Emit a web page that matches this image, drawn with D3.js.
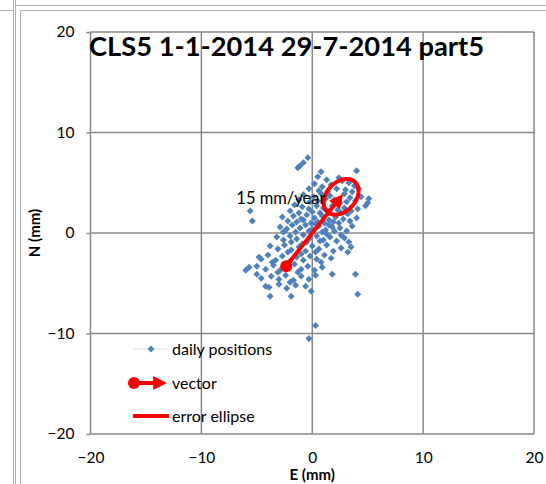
<!DOCTYPE html>
<html>
<head>
<meta charset="utf-8">
<script src="https://cdn.jsdelivr.net/npm/d3@7"></script>
<style>
  body { margin: 0; background: #fff; }
  svg { display: block; font-family: Lato, "Open Sans", sans-serif; }
</style>
</head>
<body>
<div id="chart"></div>
<script>
var titleText = "CLS5 1-1-2014 29-7-2014 part5";
var xTicks = [-20, -10, 0, 10, 20];
var yTicks = [-20, -10, 0, 10, 20];

// daily positions [E, N] in mm
var dailyPositions = [
    [-0.4, 7.5], [-0.8, 7.0], [-1.1, 6.7], [-1.3, 6.5], [0.8, 6.1], [4.0, 6.2],
    [0.5, 5.6], [1.3, 5.3], [2.4, 5.5], [2.7, 5.2], [3.3, 5.0], [3.8, 4.7], [0.2, 4.9], [0.9, 4.6],
    [1.7, 4.8], [2.2, 4.4], [3.0, 4.3], [3.6, 4.1], [-0.3, 4.4], [0.6, 4.2], [1.4, 4.1], [4.2, 4.4],
    [-0.8, 3.8], [0.1, 3.6], [0.8, 3.9], [1.6, 3.7], [2.0, 3.3], [2.9, 3.9], [3.4, 3.5], [3.9, 3.2],
    [4.4, 3.6], [5.1, 3.4], [5.0, 3.0], [4.8, 2.7], [-0.2, 3.1], [0.5, 3.2], [1.2, 3.4], [2.5, 3.0],
    [3.1, 3.1], [-1.2, 3.3],
    [-1.6, 2.8], [-0.9, 2.6], [-0.3, 2.4], [0.4, 2.7], [1.0, 2.5], [1.8, 2.7], [2.3, 2.3], [2.9, 2.5],
    [3.5, 2.2], [4.1, 2.4], [-2.0, 2.2], [-1.2, 2.0], [0.0, 2.1], [0.7, 2.0], [1.4, 2.2], [2.6, 2.0],
    [3.2, 1.9], [-5.6, 2.2],
    [-2.7, 1.6], [-2.2, 1.2], [-1.7, 1.7], [-1.0, 1.4], [-0.5, 1.8], [0.2, 1.5], [0.9, 1.7], [1.5, 1.3],
    [2.1, 1.6], [2.8, 1.4], [3.4, 1.2], [4.0, 1.5], [-1.4, 1.1], [-0.1, 1.0], [0.5, 1.1], [1.1, 1.0],
    [1.9, 1.1], [-5.4, 1.2], [-0.8, 1.3], [2.4, 1.0],
    [-2.9, 0.6], [-2.3, 0.4], [-1.8, 0.8], [-1.1, 0.5], [-0.6, 0.8], [0.0, 0.4], [0.6, 0.7], [1.2, 0.3],
    [1.8, 0.6], [2.5, 0.5], [3.1, 0.2], [3.6, 0.7], [-1.5, 0.1], [-0.3, 0.2], [0.9, 0.1], [2.0, 0.2],
    [-2.6, 0.1], [0.3, 0.9], [1.5, 0.8],
    [-3.2, -0.4], [-2.6, -0.7], [-2.0, -0.3], [-1.4, -0.6], [-0.8, -0.2], [-0.2, -0.5], [0.4, -0.3],
    [1.0, -0.7], [1.6, -0.4], [2.2, -0.8], [2.9, -0.5], [3.3, -0.9], [-1.9, -0.9], [-0.5, -0.9],
    [0.7, -0.8], [1.3, -0.1], [2.6, -0.2],
    [-3.8, -1.3], [-3.1, -1.6], [-2.5, -1.2], [-1.9, -1.7], [-1.2, -1.4], [-0.6, -1.8], [0.0, -1.3],
    [0.6, -1.6], [1.3, -1.2], [1.9, -1.8], [2.6, -1.5], [3.5, -1.4], [3.2, -1.9], [-2.2, -1.9],
    [-0.9, -1.1], [0.3, -1.9],
    [-4.8, -2.4], [-4.6, -2.6], [-4.0, -2.2], [-3.3, -2.7], [-2.7, -2.3], [-2.0, -2.8], [-1.4, -2.4],
    [-0.8, -2.7], [-0.2, -2.3], [0.4, -2.6], [1.1, -2.2], [1.7, -2.5], [-3.6, -2.9], [-1.0, -2.1],
    [0.8, -2.9],
    [-6.0, -3.7], [-5.7, -3.4], [-5.0, -3.3], [-4.2, -3.6], [-3.5, -3.2], [-2.9, -3.7], [-2.3, -3.4],
    [-1.6, -3.1], [-1.0, -3.6], [-0.4, -3.3], [0.2, -3.7], [0.9, -3.4], [-3.1, -3.9], [-1.3, -3.9],
    [-5.0, -4.1], [-4.6, -4.5], [-3.7, -4.3], [-3.0, -4.6], [-2.4, -4.2], [-1.7, -4.7], [-1.0, -4.3],
    [-0.3, -4.6], [0.3, -4.2], [1.8, -4.1], [3.9, -4.1], [-2.0, -4.9],
    [-4.2, -5.3], [-3.9, -5.4], [-3.0, -5.1], [-2.3, -5.5], [-1.5, -5.2], [-0.6, -5.3], [-0.1, -5.8],
    [-3.8, -6.3], [-1.9, -6.3], [4.1, -6.1], [0.3, -9.2], [-0.3, -10.5]
];

// velocity vector (mm), label and error ellipse
var vectorStart = [-2.35, -3.3];
var vectorEnd = [2.55, 3.55];
var vectorLabel = "15 mm/year";
var ellipseCenter = [2.6, 3.6];
var ellipseAxes = [1.95, 1.35];  // semi-major, semi-minor (mm)
var ellipseAngle = 55;           // degrees from E axis

var legendLabels = ["daily positions", "vector", "error ellipse"];

var width = 546, height = 484;
var blue = "#4f81bd", red = "#ff0000", gridColor = "#888888";

var svg = d3.select("#chart").append("svg")
    .attr("width", width)
    .attr("height", height);

// surrounding sheet / chart frame lines
var frame = svg.append("g").attr("stroke", "#b0b0b0").attr("fill", "none");
frame.append("line").attr("x1", 13.5).attr("x2", 13.5).attr("y1", 0).attr("y2", height);
frame.append("line").attr("x1", 15.5).attr("x2", 15.5).attr("y1", 0).attr("y2", height);
frame.append("line").attr("x1", 0).attr("x2", 13.5).attr("y1", 10.5).attr("y2", 10.5);
frame.append("line").attr("x1", 15.5).attr("x2", width).attr("y1", 5.5).attr("y2", 5.5);
frame.append("line").attr("x1", 20.5).attr("x2", width).attr("y1", 10.5).attr("y2", 10.5);
frame.append("line").attr("x1", 20.5).attr("x2", 20.5).attr("y1", 10.5).attr("y2", height);

var x = d3.scaleLinear().domain([-20, 20]).range([90.5, 534]);
var y = d3.scaleLinear().domain([-20, 20]).range([434, 32]);

// gridlines
var grid = svg.append("g");
grid.selectAll(".vg").data(xTicks).enter().append("line")
    .attr("x1", function (d) { return x(d); })
    .attr("x2", function (d) { return x(d); })
    .attr("y1", y(20)).attr("y2", y(-20))
    .style("stroke", gridColor).style("stroke-width", 1.5);
grid.selectAll(".hg").data(yTicks).enter().append("line")
    .attr("x1", x(-20)).attr("x2", x(20))
    .attr("y1", function (d) { return y(d); })
    .attr("y2", function (d) { return y(d); })
    .style("stroke", gridColor).style("stroke-width", 1.5);

// axes
var xAxis = svg.append("g")
    .attr("transform", "translate(0," + y(-20) + ")")
    .call(d3.axisBottom(x).tickValues(xTicks).tickSize(0).tickPadding(18));
var yAxis = svg.append("g")
    .attr("transform", "translate(" + x(-20) + ",0)")
    .call(d3.axisLeft(y).tickValues(yTicks).tickSize(4).tickPadding(12));
[xAxis, yAxis].forEach(function (a) {
    a.select(".domain").remove();
    a.selectAll("line").style("stroke", gridColor).style("stroke-width", 1.5);
    a.selectAll("text").style("font-size", "15.5px").style("fill", "#000")
        .style("font-family", "Lato, sans-serif");
});

svg.append("text")
    .attr("x", x(0)).attr("y", 480)
    .attr("text-anchor", "middle")
    .style("font-weight", "bold").style("font-size", "15px")
    .text("E (mm)");
svg.append("text")
    .attr("transform", "translate(40," + y(0) + ") rotate(-90)")
    .attr("text-anchor", "middle")
    .style("font-weight", "bold").style("font-size", "15px")
    .text("N (mm)");

// title
svg.append("text")
    .attr("x", 89).attr("y", 56)
    .style("font-weight", "bold").style("font-size", "27.3px")
    .text(titleText);

// daily positions
var diamond = d3.symbol().type(d3.symbolSquare).size(24);
svg.append("g").selectAll("path")
    .data(dailyPositions)
    .enter().append("path")
    .attr("d", diamond)
    .attr("transform", function (d) { return "translate(" + x(d[0]) + "," + y(d[1]) + ") rotate(45)"; })
    .style("fill", blue);

// error ellipse
var ang = ellipseAngle * Math.PI / 180;
var ellipsePts = d3.range(0, 361, 5).map(function (t) {
    var r = t * Math.PI / 180;
    var u = ellipseAxes[0] * Math.cos(r), v = ellipseAxes[1] * Math.sin(r);
    return [ellipseCenter[0] + u * Math.cos(ang) - v * Math.sin(ang),
            ellipseCenter[1] + u * Math.sin(ang) + v * Math.cos(ang)];
});
svg.append("path")
    .datum(ellipsePts)
    .attr("d", d3.line().x(function (d) { return x(d[0]); }).y(function (d) { return y(d[1]); }).curve(d3.curveLinearClosed))
    .style("fill", "none").style("stroke", red).style("stroke-width", 4);

// vector
svg.append("defs").append("marker")
    .attr("id", "arrow")
    .attr("viewBox", "0 0 10 10")
    .attr("refX", 7).attr("refY", 5)
    .attr("markerUnits", "userSpaceOnUse")
    .attr("markerWidth", 14).attr("markerHeight", 14)
    .attr("orient", "auto")
    .append("path").attr("d", "M0,0 L10,5 L0,10 Z").style("fill", red);

svg.append("line")
    .attr("x1", x(vectorStart[0])).attr("y1", y(vectorStart[1]))
    .attr("x2", x(vectorEnd[0])).attr("y2", y(vectorEnd[1]))
    .style("stroke", red).style("stroke-width", 4)
    .attr("marker-end", "url(#arrow)");
svg.append("circle")
    .attr("cx", x(vectorStart[0])).attr("cy", y(vectorStart[1]))
    .attr("r", 6).style("fill", red);

svg.append("text")
    .attr("x", x(vectorEnd[0]) - 15).attr("y", y(vectorEnd[1]) + 7)
    .attr("text-anchor", "end")
    .style("font-size", "16.5px")
    .text(vectorLabel);

// legend
var lg = svg.append("g").attr("transform", "translate(133,0)");
var rowY = [349, 383, 416];
lg.append("line").attr("x1", 0).attr("x2", 35).attr("y1", rowY[0]).attr("y2", rowY[0])
    .style("stroke", blue).style("stroke-opacity", 0.25).style("stroke-width", 1);
lg.append("path").attr("d", diamond)
    .attr("transform", "translate(18," + rowY[0] + ") rotate(45)")
    .style("fill", blue);
lg.append("line").attr("x1", 1).attr("x2", 30).attr("y1", rowY[1]).attr("y2", rowY[1])
    .style("stroke", red).style("stroke-width", 4)
    .attr("marker-end", "url(#arrow)");
lg.append("circle").attr("cx", 1).attr("cy", rowY[1]).attr("r", 6).style("fill", red);
lg.append("line").attr("x1", 0).attr("x2", 36).attr("y1", rowY[2]).attr("y2", rowY[2])
    .style("stroke", red).style("stroke-width", 4);
lg.selectAll(".lt").data(legendLabels).enter().append("text")
    .attr("x", 39)
    .attr("y", function (d, i) { return rowY[i] + 5.5; })
    .style("font-size", "16px")
    .text(function (d) { return d; });
</script>
</body>
</html>
